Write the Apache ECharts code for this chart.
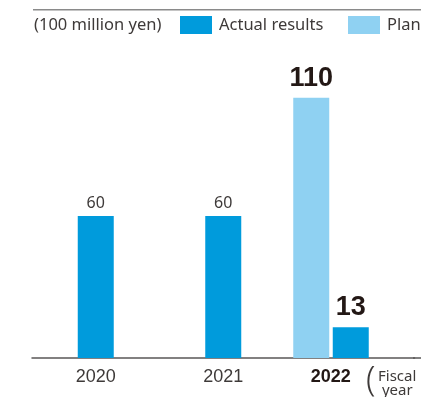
<!DOCTYPE html>
<html><head><meta charset="utf-8">
<script src="https://cdn.jsdelivr.net/npm/echarts@6/dist/echarts.min.js"></script>
<style>html,body{margin:0;padding:0;background:#fff}#c{width:421px;height:397px}</style>
</head><body><div id="c"></div>
<script>
const categories = ['2020', '2021', '2022'];
const actualResults = [60, 60, 13];
const plan = [null, null, 110];
const highlightCategory = '2022';
const unitLabel = '(100 million yen)';
const seriesNames = ['Actual results', 'Plan'];

const C_ACT = '#009bdc', C_PLAN = '#8fd1f2';
const normalLabel = {show: true, position: 'top', distance: 5, fontFamily: 'Noto Sans', fontSize: 16, color: '#3e3a39'};
const bigLabel = {show: true, position: 'top', distance: 6, fontFamily: 'Liberation Sans', fontWeight: 'bold', fontSize: 27, color: '#231815'};

const legendBase = {
  top: 11, itemWidth: 32, itemHeight: 18, icon: 'rect',
  textStyle: {fontFamily: 'Noto Sans', fontSize: 16.5, color: '#3e3a39', padding: [0, 0, 0, 2]}
};

const chart = echarts.init(document.getElementById('c'), null, {renderer: 'canvas'});
const gridTop = 74, gridBottom = 39;
chart.setOption({
  animation: false,
  legend: [
    Object.assign({}, legendBase, {left: 175, data: [seriesNames[0]]}),
    Object.assign({}, legendBase, {left: 343, data: [seriesNames[1]]})
  ],
  grid: [
    {left: 32, right: 6.5, top: gridTop, bottom: gridBottom},
    {left: -9, right: 47.5, top: gridTop, bottom: gridBottom}
  ],
  xAxis: [
    {type: 'category', gridIndex: 0, data: categories,
     axisLine: {lineStyle: {color: '#595757', width: 1.5}},
     axisTick: {show: false},
     axisLabel: {margin: 10,
       formatter: v => v === highlightCategory ? '{b|' + v + '}' : '{n|' + v + '}',
       rich: {
         n: {fontFamily: 'Liberation Sans', fontSize: 18, color: '#3e3a39'},
         b: {fontFamily: 'Liberation Sans', fontSize: 18, fontWeight: 'bold', color: '#231815', padding: [0, 40, 0, 0]}
       }}},
    {type: 'category', gridIndex: 1, data: categories, show: false}
  ],
  yAxis: [
    {type: 'value', gridIndex: 0, min: 0, max: 120, show: false},
    {type: 'value', gridIndex: 1, min: 0, max: 120, show: false}
  ],
  series: [
    {name: seriesNames[0], type: 'bar', xAxisIndex: 0, yAxisIndex: 0, barWidth: 36,
     itemStyle: {color: C_ACT},
     data: actualResults.map((v, i) => ({value: v, label: categories[i] === highlightCategory ? bigLabel : normalLabel}))},
    {name: seriesNames[1], type: 'bar', xAxisIndex: 1, yAxisIndex: 1, barWidth: 36,
     itemStyle: {color: C_PLAN},
     data: plan.map((v, i) => v == null ? '-' : ({value: v, label: categories[i] === highlightCategory ? bigLabel : normalLabel}))}
  ],
  graphic: [
    {type: 'rect', left: 33, top: 9, shape: {width: 388, height: 1.5}, style: {fill: '#8a8a8a'}},
    {type: 'rect', left: 413, top: 357.25, shape: {width: 8, height: 1.5}, style: {fill: '#595757'}},
    {type: 'text', left: 34, top: 17, style: {text: unitLabel, font: '16.5px "Noto Sans"', fill: '#3e3a39'}},
    {type: 'text', left: 366, top: 364, style: {text: '(', font: '300 34px "Noto Sans"', fill: '#3e3a39'}},
    {type: 'text', left: 378, top: 369, style: {text: 'Fiscal\n year', font: '15px "Noto Sans"', lineHeight: 14, fill: '#3e3a39'}}
  ]
});
</script></body></html>
